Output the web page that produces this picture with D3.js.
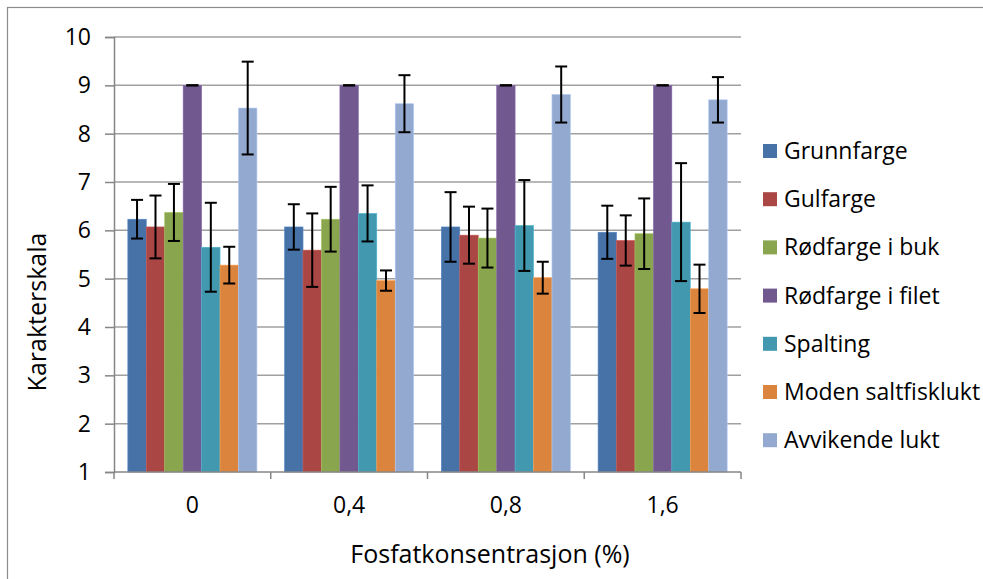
<!DOCTYPE html>
<html>
<head>
<meta charset="utf-8">
<script src="https://cdn.jsdelivr.net/npm/d3@7"></script>
<style>
  html, body { margin: 0; padding: 0; background: #fff; }
  svg { display: block; }
  text { font-family: "Open Sans", Lato, sans-serif; fill: #000; }
</style>
</head>
<body>
<svg id="chart" width="983" height="579"></svg>
<script>
// ---- data ----
const categories = ["0", "0,4", "0,8", "1,6"];
const seriesNames = ["Grunnfarge", "Gulfarge", "Rødfarge i buk", "Rødfarge i filet", "Spalting", "Moden saltfisklukt", "Avvikende lukt"];
const seriesColors = ["#4672A8", "#AA4644", "#89A54E", "#71588F", "#4198AF", "#DB843D", "#93A9CF"];

const grunnfarge      = [6.23, 6.07, 6.07, 5.96];
const gulfarge        = [6.07, 5.59, 5.90, 5.79];
const rodfargeBuk     = [6.37, 6.23, 5.84, 5.93];
const rodfargeFilet   = [9.00, 9.00, 9.00, 9.00];
const spalting        = [5.65, 6.35, 6.10, 6.17];
const modenSaltfisk   = [5.28, 4.96, 5.02, 4.79];
const avvikendeLukt   = [8.53, 8.62, 8.81, 8.70];

const grunnfargeErr    = [0.40, 0.47, 0.72, 0.55];
const gulfargeErr      = [0.65, 0.76, 0.59, 0.52];
const rodfargeBukErr   = [0.59, 0.67, 0.61, 0.73];
const rodfargeFiletErr = [0.00, 0.00, 0.00, 0.00];
const spaltingErr      = [0.92, 0.58, 0.94, 1.22];
const modenSaltfiskErr = [0.38, 0.21, 0.33, 0.50];
const avvikendeLuktErr = [0.96, 0.59, 0.58, 0.47];

const yTicks = [1, 2, 3, 4, 5, 6, 7, 8, 9, 10];
const yLabel = "Karakterskala";
const xLabel = "Fosfatkonsentrasjon (%)";

const seriesValues = [grunnfarge, gulfarge, rodfargeBuk, rodfargeFilet, spalting, modenSaltfisk, avvikendeLukt];
const seriesErrors = [grunnfargeErr, gulfargeErr, rodfargeBukErr, rodfargeFiletErr, spaltingErr, modenSaltfiskErr, avvikendeLuktErr];

// ---- layout ----
const FS = 23;
const TFS = 25;
const svg = d3.select("#chart");
const plot = { left: 114, right: 741, top: 37, bottom: 472 };

// outer chart border
svg.append("rect")
  .attr("x", 7.5).attr("y", 7.5)
  .attr("width", 1000).attr("height", 600)
  .attr("fill", "none").attr("stroke", "#8C8C8C").attr("stroke-width", 1.2);

const x = d3.scaleBand().domain(categories).range([plot.left, plot.right]).padding(0);
const gap = 1.5; // gap width relative to bar width
const nS = seriesNames.length;
const barW = x.bandwidth() / (nS + gap);
const xs = d3.scaleBand().domain(d3.range(nS)).range([barW * gap / 2, barW * gap / 2 + barW * nS]).padding(0);

const y = d3.scaleLinear().domain([1, 10]).range([plot.bottom, plot.top]);

// gridlines
svg.append("g")
  .selectAll("line")
  .data(yTicks.filter(t => t > 1))
  .join("line")
  .attr("x1", plot.left).attr("x2", plot.right)
  .attr("y1", d => y(d)).attr("y2", d => y(d))
  .attr("stroke", "#A0A0A0").attr("stroke-width", 1.5);

// y axis
const yAxis = svg.append("g")
  .attr("transform", `translate(${plot.left},0)`)
  .call(d3.axisLeft(y).tickValues(yTicks).tickSize(9).tickPadding(14).tickFormat(d3.format("d")));
yAxis.attr("font-size", FS).attr("font-family", "'Open Sans', sans-serif");
yAxis.select(".domain").attr("stroke", "#868686").attr("stroke-width", 1.5);
yAxis.selectAll(".tick line").attr("stroke", "#868686").attr("stroke-width", 1.5);
yAxis.selectAll("text").attr("font-size", FS).attr("fill", "#000");

// bars
const groups = svg.append("g")
  .selectAll("g")
  .data(categories)
  .join("g")
  .attr("transform", d => `translate(${x(d)},0)`);

groups.each(function(cat, ci) {
  const g = d3.select(this);
  seriesNames.forEach((name, si) => {
    const v = seriesValues[si][ci];
    const bx = xs(si);
    g.append("rect")
      .attr("x", bx).attr("width", xs.bandwidth())
      .attr("y", y(v)).attr("height", y(1) - y(v))
      .attr("fill", seriesColors[si])
      .attr("stroke", d3.color(seriesColors[si]).brighter(0.5)).attr("stroke-width", 0.6);
  });
});

// x axis
const xAxisG = svg.append("g").attr("transform", `translate(0,${plot.bottom})`);
xAxisG.append("line")
  .attr("x1", plot.left).attr("x2", plot.right)
  .attr("stroke", "#868686").attr("stroke-width", 1.5);
const boundaries = categories.map(c => x(c)).concat([plot.right]);
xAxisG.selectAll("line.tk")
  .data(boundaries)
  .join("line").attr("class", "tk")
  .attr("x1", d => d).attr("x2", d => d)
  .attr("y1", 0).attr("y2", 7)
  .attr("stroke", "#868686").attr("stroke-width", 1.5);
xAxisG.selectAll("text")
  .data(categories)
  .join("text")
  .attr("x", d => x(d) + x.bandwidth() / 2)
  .attr("y", 41)
  .attr("text-anchor", "middle")
  .attr("font-size", FS)
  .text(d => d);

// error bars
groups.each(function(cat, ci) {
  const g = d3.select(this);
  seriesNames.forEach((name, si) => {
    const v = seriesValues[si][ci];
    const e = seriesErrors[si][ci];
    const cx = xs(si) + xs.bandwidth() / 2;
    const eg = g.append("g").attr("stroke", "#000").attr("stroke-width", 2);
    eg.append("line").attr("x1", cx).attr("x2", cx).attr("y1", y(v + e)).attr("y2", y(v - e));
    eg.append("line").attr("x1", cx - 6).attr("x2", cx + 6).attr("y1", y(v + e)).attr("y2", y(v + e));
    eg.append("line").attr("x1", cx - 6).attr("x2", cx + 6).attr("y1", y(v - e)).attr("y2", y(v - e));
  });
});

// axis titles
svg.append("text")
  .attr("transform", "translate(46,312) rotate(-90)")
  .attr("text-anchor", "middle")
  .attr("font-size", TFS)
  .text(yLabel);

svg.append("text")
  .attr("x", 490).attr("y", 563)
  .attr("text-anchor", "middle")
  .attr("font-size", TFS)
  .text(xLabel);

// legend
const legend = svg.append("g").attr("transform", "translate(763,151)");
const lg = legend.selectAll("g")
  .data(seriesNames)
  .join("g")
  .attr("transform", (d, i) => `translate(0,${i * 48.2})`);
lg.append("rect")
  .attr("x", 0).attr("y", -7).attr("width", 14).attr("height", 14)
  .attr("fill", (d, i) => seriesColors[i]);
lg.append("text")
  .attr("x", 21).attr("y", 8)
  .attr("font-size", FS)
  .text(d => d);
</script>
</body>
</html>
